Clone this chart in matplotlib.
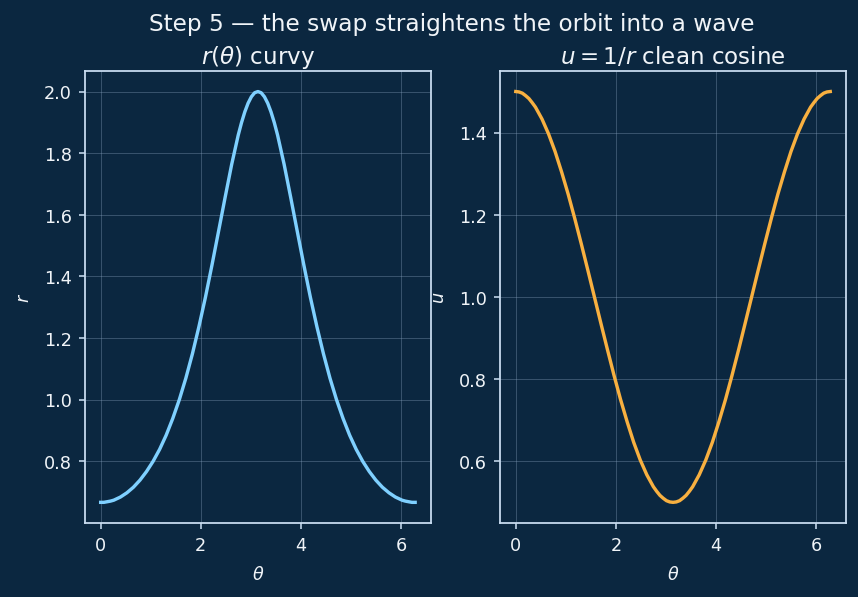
import matplotlib
matplotlib.use("Agg")
import matplotlib.pyplot as plt

theta = [0.000, 0.065, 0.131, 0.196, 0.262, 0.327, 0.393,
         0.524, 0.654, 0.785, 0.916, 1.047, 1.178, 1.309, 1.440, 1.571,
         1.702, 1.833, 1.963, 2.094, 2.225, 2.356, 2.487, 2.618, 2.749,
         2.814, 2.880, 2.945, 3.011, 3.076, 3.142, 3.207, 3.272, 3.338, 3.403, 3.469,
         3.534, 3.665, 3.796, 3.927, 4.058, 4.189, 4.320, 4.451, 4.581, 4.712,
         4.843, 4.974, 5.105, 5.236, 5.367, 5.498, 5.629, 5.760, 5.890,
         5.956, 6.021, 6.087, 6.152, 6.218, 6.283]

r_vals = [0.667, 0.667, 0.669, 0.671, 0.674, 0.679, 0.684,
          0.698, 0.716, 0.739, 0.767, 0.800, 0.839, 0.885, 0.939, 1.000,
          1.070, 1.149, 1.237, 1.333, 1.438, 1.547, 1.657, 1.764, 1.859,
          1.899, 1.934, 1.962, 1.983, 1.996, 2.000, 1.996, 1.983, 1.962, 1.934, 1.899,
          1.859, 1.764, 1.657, 1.547, 1.438, 1.333, 1.237, 1.149, 1.070, 1.000,
          0.939, 0.885, 0.839, 0.800, 0.767, 0.739, 0.716, 0.698, 0.684,
          0.679, 0.674, 0.671, 0.669, 0.667, 0.667]

u_vals = [1.500, 1.499, 1.496, 1.490, 1.483, 1.473, 1.462,
          1.433, 1.397, 1.354, 1.304, 1.250, 1.191, 1.129, 1.065, 1.000,
          0.935, 0.871, 0.809, 0.750, 0.696, 0.646, 0.603, 0.567, 0.538,
          0.527, 0.517, 0.510, 0.504, 0.501, 0.500, 0.501, 0.504, 0.510, 0.517, 0.527,
          0.538, 0.567, 0.603, 0.646, 0.696, 0.750, 0.809, 0.871, 0.935, 1.000,
          1.065, 1.129, 1.191, 1.250, 1.304, 1.354, 1.397, 1.433, 1.462,
          1.473, 1.483, 1.490, 1.496, 1.499, 1.500]

suptitle = "Step 5 — the swap straightens the orbit into a wave"
left_title = r"$r(\theta)$ curvy"
right_title = r"$u=1/r$ clean cosine"

BG = "#0b2740"
FG = "#f0f4f8"
SPINE = "#c8dcf0"

plt.rcParams["font.size"] = 8.9

fig, axes = plt.subplots(1, 2, figsize=(6.0, 4.18), dpi=143)
fig.patch.set_facecolor(BG)
fig.subplots_adjust(left=0.099, right=0.986, top=0.880, bottom=0.124, wspace=0.2)

specs = [
    (axes[0], r_vals, "#7fd0ff", left_title, r"$r$"),
    (axes[1], u_vals, "#f8b040", right_title, r"$u$"),
]
for ax, vals, color, title, ylab in specs:
    ax.set_facecolor(BG)
    ax.plot(theta, vals, color=color, lw=1.7)
    ax.set_title(title, color=FG, fontsize=11.6, pad=4)
    ax.set_xlabel(r"$\theta$", color=FG, labelpad=6)
    ax.set_ylabel(ylab, color=FG, labelpad=5.5)
    ax.grid(True, color="#8aa4c0", alpha=0.35, lw=0.5)
    ax.tick_params(colors=FG, labelcolor=FG, length=3.0, width=0.8)
    ax.tick_params(axis="both", color=SPINE)
    for s in ax.spines.values():
        s.set_color(SPINE)
        s.set_linewidth(0.9)

fig.suptitle(suptitle, color=FG, fontsize=11.7, x=0.527, y=0.978)
fig.savefig("out.png", dpi=143, facecolor=BG)
